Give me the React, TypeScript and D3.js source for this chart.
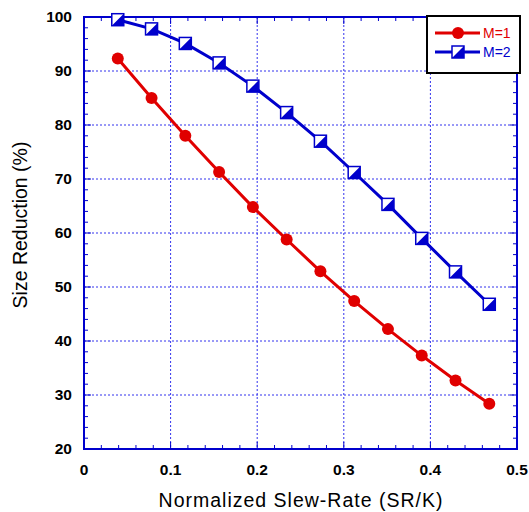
import React from "react";
import * as d3 from "d3";

const xValues = [0.039, 0.078, 0.117, 0.156, 0.195, 0.234, 0.273, 0.312, 0.351, 0.39, 0.429, 0.468];
const seriesM1 = [92.3, 85.0, 78.0, 71.3, 64.8, 58.8, 52.9, 47.4, 42.2, 37.3, 32.7, 28.4];
const seriesM2 = [99.5, 97.8, 95.1, 91.5, 87.2, 82.3, 77.0, 71.2, 65.3, 59.0, 52.8, 46.8];
const xTicks = [0, 0.1, 0.2, 0.3, 0.4, 0.5];
const yTicks = [20, 30, 40, 50, 60, 70, 80, 90, 100];
const legendLabels = ["M=1", "M=2"];

const W = 529, H = 512;
const L = 84, R = 517, T = 17, B = 449;
const RED = "#e00000";
const BLUE = "#0000cc";
const GRID = "#3333ee";

export default function App() {
  const x = d3.scaleLinear().domain([0, 0.5]).range([L, R]);
  const y = d3.scaleLinear().domain([20, 100]).range([B, T]);
  const line = d3.line<number>().x((_, i) => x(xValues[i])).y((d) => y(d));
  const xMinor = d3.range(0, 0.5001, 0.02);
  const yMinor = d3.range(20, 100.001, 2);
  const font = "Arial, 'Liberation Sans', sans-serif";
  const sq = 12;
  const square = (cx: number, cy: number, key: any) => (
    <g key={key}>
      <rect x={cx - sq / 2} y={cy - sq / 2} width={sq} height={sq} fill="white" stroke={BLUE} strokeWidth={1.5} />
      <path d={`M${cx - sq / 2},${cy + sq / 2}L${cx + sq / 2},${cy - sq / 2}L${cx + sq / 2},${cy + sq / 2}Z`} fill={BLUE} />
    </g>
  );
  return (
    <div style={{ position: "absolute", left: 0, top: 0 }}>
      <svg width={W} height={H} style={{ display: "block" }}>
        <rect width={W} height={H} fill="white" />
        {xTicks.slice(1, -1).map((t) => (
          <line key={"gx" + t} x1={x(t)} x2={x(t)} y1={T} y2={B} stroke={GRID} strokeWidth={1} strokeDasharray="2,2" />
        ))}
        {yTicks.slice(1, -1).map((t) => (
          <line key={"gy" + t} x1={L} x2={R} y1={y(t)} y2={y(t)} stroke={GRID} strokeWidth={1} strokeDasharray="2,2" />
        ))}
        {xMinor.map((t, i) => {
          const major = i % 5 === 0;
          const len = major ? 7 : 4;
          return (
            <g key={"xt" + i}>
              <line x1={x(t)} x2={x(t)} y1={B} y2={B - len} stroke={BLUE} strokeWidth={1} />
              <line x1={x(t)} x2={x(t)} y1={T} y2={T + len} stroke={BLUE} strokeWidth={1} />
            </g>
          );
        })}
        {yMinor.map((t, i) => {
          const major = i % 5 === 0;
          const len = major ? 7 : 4;
          return (
            <g key={"yt" + i}>
              <line x1={L} x2={L + len} y1={y(t)} y2={y(t)} stroke={BLUE} strokeWidth={1} />
              <line x1={R} x2={R - len} y1={y(t)} y2={y(t)} stroke={BLUE} strokeWidth={1} />
            </g>
          );
        })}
        <rect x={L} y={T} width={R - L} height={B - T} fill="none" stroke={BLUE} strokeWidth={2} />
        {xTicks.map((t) => (
          <text key={"xl" + t} x={x(t)} y={B + 26} textAnchor="middle" fontFamily={font} fontWeight="bold" fontSize={15.5} fill="#000">
            {String(t)}
          </text>
        ))}
        {yTicks.map((t) => (
          <text key={"yl" + t} x={L - 12} y={y(t) + 5} textAnchor="end" fontFamily={font} fontWeight="bold" fontSize={15.5} fill="#000">
            {t}
          </text>
        ))}
        <text x={(L + R) / 2 + 0.5} y={507} textAnchor="middle" fontFamily={font} fontSize={19.5} letterSpacing={1} fill="#000">
          Normalized Slew-Rate (SR/K)
        </text>
        <text transform={`translate(27,${(T + B) / 2 - 8}) rotate(-90)`} textAnchor="middle" fontFamily={font} fontSize={19.5} fill="#000">
          Size Reduction (%)
        </text>
        <path d={line(seriesM1) || ""} fill="none" stroke={RED} strokeWidth={3} />
        {seriesM1.map((v, i) => (
          <circle key={"c" + i} cx={x(xValues[i])} cy={y(v)} r={6} fill={RED} />
        ))}
        <path d={line(seriesM2) || ""} fill="none" stroke={BLUE} strokeWidth={3} />
        {seriesM2.map((v, i) => square(x(xValues[i]), y(v), "s" + i))}
        <rect x={427} y={16} width={93} height={57} fill="white" stroke="#000" strokeWidth={2} />
        <line x1={435} x2={480} y1={33} y2={33} stroke={RED} strokeWidth={3} />
        <circle cx={458} cy={33} r={6} fill={RED} />
        <text x={483} y={38} fontFamily={font} fontSize={14} fill={RED}>{legendLabels[0]}</text>
        <line x1={435} x2={480} y1={52} y2={52} stroke={BLUE} strokeWidth={3} />
        {square(458, 52, "ls")}
        <text x={483} y={57} fontFamily={font} fontSize={14} fill={BLUE}>{legendLabels[1]}</text>
      </svg>
    </div>
  );
}
